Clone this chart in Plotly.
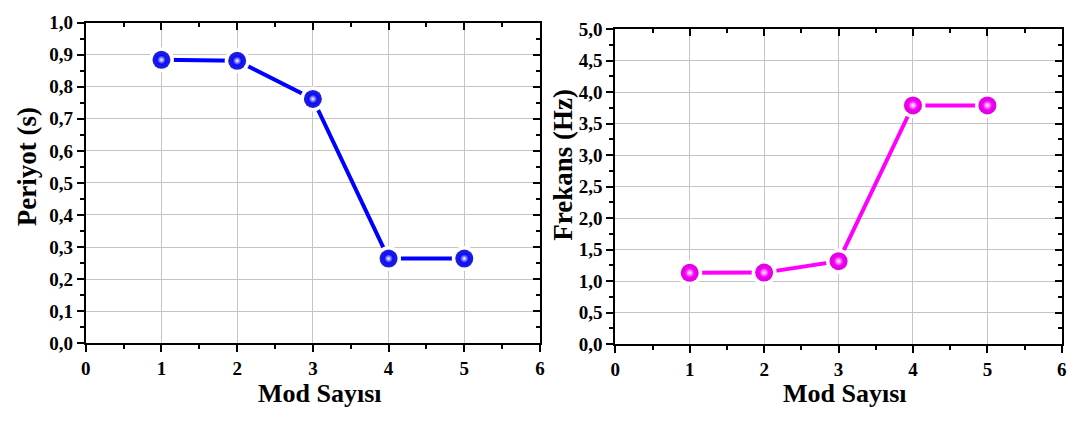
import plotly.graph_objects as go

# Mode numbers and modal results
modes = [1, 2, 3, 4, 5]
period_s = [0.884, 0.881, 0.762, 0.264, 0.264]
frequency_hz = [1.131, 1.135, 1.316, 3.788, 3.788]

x_ticks = [0, 1, 2, 3, 4, 5, 6]
period_ticks = [0.0, 0.1, 0.2, 0.3, 0.4, 0.5, 0.6, 0.7, 0.8, 0.9, 1.0]
freq_ticks = [0.0, 0.5, 1.0, 1.5, 2.0, 2.5, 3.0, 3.5, 4.0, 4.5, 5.0]

SERIF = "Liberation Serif"
W, H = 1080, 421

fig = go.Figure()


def add_series(xs, ys, color, edge, xa, ya):
    # connecting line
    fig.add_trace(go.Scatter(x=xs, y=ys, mode="lines", xaxis=xa, yaxis=ya,
                             line=dict(color=color, width=4),
                             hoverinfo="skip", showlegend=False))
    # white halo leaves a small gap between line and ball
    fig.add_trace(go.Scatter(x=xs, y=ys, mode="markers", xaxis=xa, yaxis=ya,
                             marker=dict(color="white", size=25, line=dict(width=0)),
                             hoverinfo="skip", showlegend=False))
    # shaded ball
    fig.add_trace(go.Scatter(x=xs, y=ys, mode="markers", xaxis=xa, yaxis=ya,
                             marker=dict(color=edge, size=18,
                                         gradient=dict(type="radial", color=color),
                                         line=dict(width=0)),
                             showlegend=False))
    # highlight
    fig.add_trace(go.Scatter(x=xs, y=ys, mode="markers", xaxis=xa, yaxis=ya,
                             marker=dict(color=color, size=9,
                                         gradient=dict(type="radial", color="white"),
                                         line=dict(width=0)),
                             hoverinfo="skip", showlegend=False))


add_series(modes, period_s, "#0000ff", "#2020e0", "x", "y")
add_series(modes, frequency_hz, "#ff00ff", "#e000e0", "x2", "y2")

# empty traces so the mirrored frame axes are drawn
fig.add_trace(go.Scatter(x=[], y=[], xaxis="x3", yaxis="y3", showlegend=False))
fig.add_trace(go.Scatter(x=[], y=[], xaxis="x4", yaxis="y4", showlegend=False))

left_x = [81.5 / W, 540 / W]
right_x = [616 / W, 1066.7 / W]
left_y = [(H - 350.7) / H, (H - 13.3) / H]
right_y = [(H - 351.7) / H, (H - 20) / H]

tick_font = dict(family=SERIF, size=19, color="black")
xtick_font = dict(family=SERIF, size=19, color="black")
grid = "#c4c4c4"


def bold_labels(vals, fmt):
    return ["<b>" + format(v, fmt).replace(".", ",") + "</b>" for v in vals]


def x_main(domain, anchor):
    return dict(domain=domain, anchor=anchor, range=[0, 6],
                tickmode="array", tickvals=x_ticks,
                ticktext=bold_labels(x_ticks, "d"),
                ticks="outside", ticklen=7, tickwidth=2, tickcolor="black",
                ticklabelstandoff=0,
                minor=dict(ticks="outside", ticklen=4, tickwidth=1.5,
                           tickcolor="black", dtick=0.5, tick0=0, showgrid=False),
                showline=True, linewidth=2, linecolor="black",
                showgrid=True, gridcolor=grid, gridwidth=1,
                zeroline=False, tickfont=xtick_font, fixedrange=True)


def y_main(domain, anchor, top, step, vals):
    return dict(domain=domain, anchor=anchor, range=[0, top],
                tickmode="array", tickvals=vals,
                ticktext=bold_labels(vals, ".1f"),
                ticks="outside", ticklen=7, tickwidth=2, tickcolor="black",
                minor=dict(ticks="outside", ticklen=4, tickwidth=1.5,
                           tickcolor="black", dtick=step / 2, tick0=0, showgrid=False),
                showline=True, linewidth=2, linecolor="black",
                showgrid=True, gridcolor=grid, gridwidth=1,
                zeroline=False, tickfont=tick_font, fixedrange=True)


def x_mirror(domain, base, anchor):
    return dict(domain=domain, overlaying=base, anchor=anchor, side="top",
                range=[0, 6], dtick=1, tick0=0,
                ticks="inside", ticklen=7, tickwidth=2, tickcolor="black",
                minor=dict(ticks="inside", ticklen=4, tickwidth=1.5,
                           tickcolor="black", dtick=0.5, tick0=0, showgrid=False),
                showticklabels=False, showline=True, linewidth=2,
                linecolor="black", showgrid=False, zeroline=False,
                fixedrange=True)


def y_mirror(domain, base, anchor, top, step):
    return dict(domain=domain, overlaying=base, anchor=anchor, side="right",
                range=[0, top], dtick=step, tick0=0,
                ticks="inside", ticklen=7, tickwidth=2, tickcolor="black",
                minor=dict(ticks="inside", ticklen=4, tickwidth=1.5,
                           tickcolor="black", dtick=step / 2, tick0=0, showgrid=False),
                showticklabels=False, showline=True, linewidth=2,
                linecolor="black", showgrid=False, zeroline=False,
                fixedrange=True)


title_font = dict(family=SERIF, size=26, color="black")

fig.update_layout(
    width=W, height=H,
    margin=dict(l=0, r=0, t=0, b=0),
    paper_bgcolor="white", plot_bgcolor="white",
    showlegend=False,
    xaxis=x_main(left_x, "y"),
    yaxis=y_main(left_y, "x", 1.0, 0.1, period_ticks),
    xaxis2=x_main(right_x, "y2"),
    yaxis2=y_main(right_y, "x2", 5.0, 0.5, freq_ticks),
    xaxis3=x_mirror(left_x, "x", "y3"),
    yaxis3=y_mirror(left_y, "y", "x3", 1.0, 0.1),
    xaxis4=x_mirror(right_x, "x2", "y4"),
    yaxis4=y_mirror(right_y, "y2", "x4", 5.0, 0.5),
    annotations=[
        dict(text="<b>Periyot (s)</b>", x=21.7 / W, y=1 - 165 / H, xref="paper", yref="paper",
             textangle=-90, showarrow=False, font=dict(title_font, size=27),
             xanchor="center", yanchor="middle"),
        dict(text="<b>Frekans (Hz)</b>", x=563 / W, y=1 - 163 / H, xref="paper", yref="paper",
             textangle=-90, showarrow=False, font=dict(title_font, size=27),
             xanchor="center", yanchor="middle"),
        dict(text="<b>Mod Sayısı</b>", x=318 / W, y=0, xref="paper", yref="paper",
             showarrow=False, font=title_font, xanchor="center", yanchor="bottom"),
        dict(text="<b>Mod Sayısı</b>", x=848 / W, y=0, xref="paper", yref="paper",
             showarrow=False, font=title_font, xanchor="center", yanchor="bottom"),
    ],
)

fig.write_html("out.html")
